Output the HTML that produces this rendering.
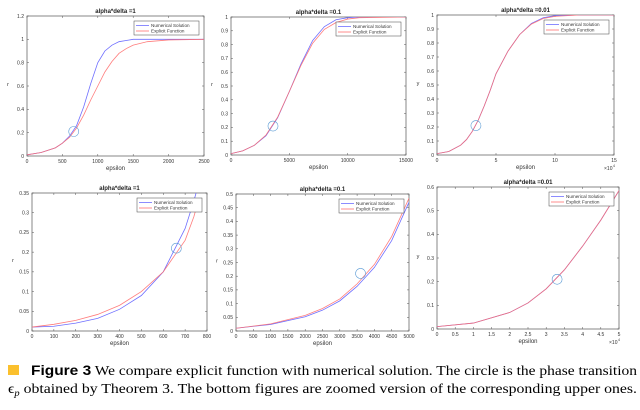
<!DOCTYPE html>
<html><head><meta charset="utf-8"><style>
html,body{margin:0;padding:0;background:#fff;}
svg{display:block;font-family:"Liberation Sans",sans-serif;}
</style></head><body>
<svg id="fig" width="640" height="410" viewBox="0 0 640 410">
<g id="panels"></g>
<rect x="8" y="365" width="11" height="10" fill="#fbc02d"/>
<text x="31" y="375" font-size="13.5" textLength="606" lengthAdjust="spacingAndGlyphs"><tspan font-weight="bold" font-family="Liberation Sans, sans-serif">Figure 3</tspan><tspan font-family="Liberation Serif, serif"> We compare explicit function with numerical solution. The circle is the phase transition</tspan></text>
<text x="8" y="393" font-size="13.5" font-family="Liberation Serif, serif" textLength="629" lengthAdjust="spacingAndGlyphs">ϵ<tspan font-size="9" dy="3" font-style="italic">p</tspan><tspan dy="-3"> obtained by Theorem 3. The bottom figures are zoomed version of the corresponding upper ones.</tspan></text>
</svg>
<script>
// ---- data ----
const p1X=[0,200,400,500,600,700,800,900,1000,1100,1200,1300,1400,1500,1700,2000,2500];
const p1Blue=[0.01,0.03,0.07,0.11,0.17,0.26,0.42,0.62,0.8,0.9,0.95,0.98,0.99,1,1,1,1];
const p1Red=[0.01,0.03,0.07,0.11,0.16,0.24,0.35,0.48,0.6,0.72,0.81,0.88,0.92,0.95,0.98,0.995,1];
const p1XTicks=[0,500,1000,1500,2000,2500];
const p1YTicks=[0,0.2,0.4,0.6,0.8,1,1.2];

const p2X=[0,1000,2000,3000,4000,5000,6000,7000,8000,9000,10000,11000,15000];
const p2Blue=[0.01,0.03,0.07,0.14,0.27,0.46,0.66,0.83,0.93,0.98,0.995,1,1];
const p2Red=[0.01,0.03,0.07,0.145,0.275,0.46,0.65,0.81,0.91,0.96,0.985,0.995,1];
const p2XTicks=[0,5000,10000,15000];
const p2YTicks=[0,0.1,0.2,0.3,0.4,0.5,0.6,0.7,0.8,0.9,1];

const p3X=[0,1,2,2.5,3,3.5,4,4.5,5,6,7,8,9,10,12,15];
const p3Blue=[0.01,0.025,0.07,0.11,0.17,0.25,0.35,0.46,0.58,0.74,0.86,0.94,0.98,0.995,1,1];
const p3Red=[0.01,0.025,0.07,0.11,0.17,0.25,0.35,0.46,0.58,0.74,0.86,0.935,0.975,0.99,1,1];
const p3XTicks=[0,5,10,15];
const p3YTicks=[0,0.1,0.2,0.3,0.4,0.5,0.6,0.7,0.8,0.9,1];

const p4X=[0,100,200,300,400,500,600,700,740,760];
const p4Blue=[0.01,0.012,0.02,0.032,0.055,0.09,0.15,0.26,0.33,0.37];
const p4Red=[0.01,0.017,0.027,0.042,0.065,0.1,0.15,0.23,0.29,0.33];
const p4XTicks=[0,100,200,300,400,500,600,700,800];
const p4YTicks=[0,0.05,0.1,0.15,0.2,0.25,0.3,0.35];

const p5X=[0,1000,2000,2500,3000,3500,4000,4500,5000];
const p5Blue=[0.01,0.024,0.052,0.076,0.11,0.163,0.232,0.33,0.47];
const p5Red=[0.01,0.026,0.057,0.082,0.117,0.172,0.243,0.345,0.485];
const p5XTicks=[0,500,1000,1500,2000,2500,3000,3500,4000,4500,5000];
const p5YTicks=[0,0.05,0.1,0.15,0.2,0.25,0.3,0.35,0.4,0.45,0.5];

const p6X=[0,1,2,2.5,3,3.5,4,4.5,5];
const p6Blue=[0.01,0.025,0.07,0.11,0.17,0.25,0.35,0.46,0.585];
const p6Red=[0.01,0.025,0.07,0.11,0.17,0.25,0.35,0.46,0.585];
const p6XTicks=[0,0.5,1,1.5,2,2.5,3,3.5,4,4.5,5];
const p6YTicks=[0,0.1,0.2,0.3,0.4,0.5,0.6];

const titles=["alpha*delta =1","alpha*delta =0.1","alpha*delta =0.01","alpha*delta =1","alpha*delta =0.1","alpha*delta =0.01"];
const circleX=[660,3600,3.3,660,3600,3.3];
const circleY=[0.21,0.21,0.21,0.21,0.21,0.21];

const NS="http://www.w3.org/2000/svg";
const panels=[
 {box:[27,16,204,156],xd:[0,2500],yd:[0,1.2],X:p1X,B:p1Blue,R:p1Red,xt:p1XTicks,yt:p1YTicks,yl:"r",exp:false},
 {box:[231,17,406,155],xd:[0,15000],yd:[0,1],X:p2X,B:p2Blue,R:p2Red,xt:p2XTicks,yt:p2YTicks,yl:"r",exp:false},
 {box:[437,15,614,155],xd:[0,15],yd:[0,1],X:p3X,B:p3Blue,R:p3Red,xt:p3XTicks,yt:p3YTicks,yl:"y",exp:true},
 {box:[32,193,207,331],xd:[0,800],yd:[0,0.35],X:p4X,B:p4Blue,R:p4Red,xt:p4XTicks,yt:p4YTicks,yl:"r",exp:false},
 {box:[236,194,409,331],xd:[0,5000],yd:[0,0.5],X:p5X,B:p5Blue,R:p5Red,xt:p5XTicks,yt:p5YTicks,yl:"r",exp:false},
 {box:[437,187,619,329],xd:[0,5],yd:[0,0.6],X:p6X,B:p6Blue,R:p6Red,xt:p6XTicks,yt:p6YTicks,yl:"y",exp:true}
];
const root=document.getElementById("panels");
function mk(tag,attrs,parent,txt){const e=document.createElementNS(NS,tag);for(const k in attrs)e.setAttribute(k,attrs[k]);if(txt!==undefined)e.textContent=txt;parent.appendChild(e);return e;}
panels.forEach((p,i)=>{
 const [l,t,r,b]=p.box;
 const sx=v=>l+(v-p.xd[0])/(p.xd[1]-p.xd[0])*(r-l);
 const sy=v=>b-(v-p.yd[0])/(p.yd[1]-p.yd[0])*(b-t);
 const g=mk("g",{},root);
 
 
 const cp=mk("clipPath",{id:"cp"+i},g);mk("rect",{x:l,y:t,width:r-l,height:b-t},cp);
 const fr=mk("rect",{x:l,y:t,width:r-l,height:b-t,fill:"#fff",stroke:"#555","stroke-width":0.7},g);
 
 
 p.xt.forEach(v=>{
  const x=sx(v);
  mk("line",{x1:x,y1:b,x2:x,y2:b-2,stroke:"#555","stroke-width":0.5},g);
  mk("line",{x1:x,y1:t,x2:x,y2:t+2,stroke:"#555","stroke-width":0.5},g);
  const tx=mk("text",{x:x,y:b+7,"font-size":5,"text-anchor":"middle",fill:"#333"},g,String(v));
  
  
 });
 p.yt.forEach(v=>{
  const y=sy(v);
  mk("line",{x1:l,y1:y,x2:l+2,y2:y,stroke:"#555","stroke-width":0.5},g);
  mk("line",{x1:r,y1:y,x2:r-2,y2:y,stroke:"#555","stroke-width":0.5},g);
  const ty=mk("text",{x:l-3,y:y+1.8,"font-size":5,"text-anchor":"end",fill:"#333"},g,String(+v.toFixed(2)));
  
  
 });
 const ti=mk("text",{x:(l+r)/2,y:t-3,"font-size":6,"font-weight":"bold","text-anchor":"middle",fill:"#222"},g,titles[i]);
 
 
 const xl=mk("text",{x:(l+r)/2,y:b+14,"font-size":6,"text-anchor":"middle",fill:"#333"},g,"epsilon");
 
 
 const ylb=mk("text",{x:l-19,y:(t+b)/2,"font-size":5.5,"text-anchor":"middle",fill:"#333"},g,p.yl);
 
 
 if(p.exp){
  const ex=mk("text",{x:r-10,y:b+15,"font-size":5,fill:"#333"},g,"×10");
  
  
  mk("text",{x:r-1,y:b+12,"font-size":3.5,fill:"#333"},g,"4");
 }
 const pts=arr=>p.X.map((x,k)=>sx(x).toFixed(2)+","+sy(arr[k]).toFixed(2)).join(" ");
 const lb=mk("polyline",{points:pts(p.B),fill:"none",stroke:"#6f6fff","stroke-width":0.8,"clip-path":"url(#cp"+i+")"},g);
 
 
 const lr=mk("polyline",{points:pts(p.R),fill:"none",stroke:"#ff6f6f","stroke-width":0.8,"stroke-opacity":0.9,"clip-path":"url(#cp"+i+")"},g);
 
 
 const c=mk("circle",{cx:sx(circleX[i]),cy:sy(circleY[i]),r:5,fill:"none",stroke:"#5b9bd5","stroke-width":0.6},g);
 
 
 const lw=65,lh=14,lx=r-lw-5,ly=t+5;
 const lg=mk("g",{},g);
 
 
 mk("rect",{x:lx,y:ly,width:lw,height:lh,fill:"#fff",stroke:"#444","stroke-width":0.5},lg);
 mk("line",{x1:lx+2,y1:ly+4.5,x2:lx+15,y2:ly+4.5,stroke:"#6f6fff","stroke-width":0.8},lg);
 mk("line",{x1:lx+2,y1:ly+10,x2:lx+15,y2:ly+10,stroke:"#ff6f6f","stroke-width":0.8},lg);
 const e1=mk("text",{x:lx+17,y:ly+6.2,"font-size":4.6,fill:"#333"},lg,"Numerical Solution");
 
 
 const e2=mk("text",{x:lx+17,y:ly+11.7,"font-size":4.6,fill:"#333"},lg,"Explicit Function");
 
 
});
</script>
</body></html>
